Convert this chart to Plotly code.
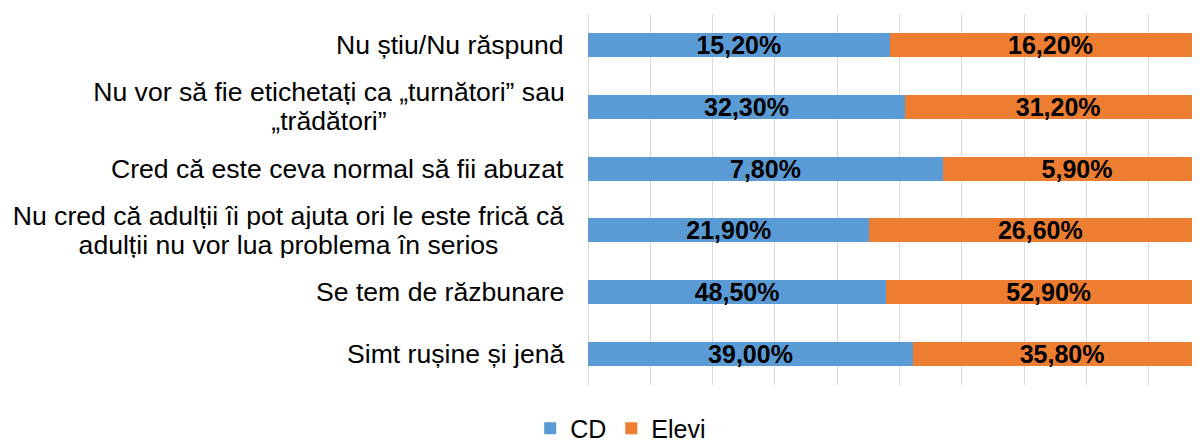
import plotly.graph_objects as go

categories = [
    "Nu știu/Nu răspund",
    "Nu vor să fie etichetați ca „turnători” sau<br>„trădători”",
    "Cred că este ceva normal să fii abuzat",
    "Nu cred că adulții îi pot ajuta ori le este frică că<br>adulții nu vor lua problema în serios",
    "Se tem de răzbunare",
    "Simt rușine și jenă",
]
cd_values = [15.20, 32.30, 7.80, 21.90, 48.50, 39.00]
elevi_values = [16.20, 31.20, 5.90, 26.60, 52.90, 35.80]

def fmt(v):
    return f"{v:.2f}%".replace(".", ",")

FONT = "Liberation Sans, Arial, sans-serif"
BLUE = "#5B9BD5"
ORANGE = "#ED7D31"
LABEL_SIZE = 26.6
LINE_GAP = 29

keys = [c.replace("<br>", " ") for c in categories]

fig = go.Figure()
for name, vals, col in (("CD", cd_values, BLUE), ("Elevi", elevi_values, ORANGE)):
    fig.add_trace(go.Bar(
        y=keys, x=vals, name=name, orientation="h",
        marker=dict(color=col, line=dict(width=0)),
        text=[fmt(v) for v in vals], textposition="inside",
        insidetextanchor="middle", textangle=0, constraintext="none",
        textfont=dict(family=FONT, size=25, color="black", weight="bold"),
    ))

# category labels: right-aligned block, multi-line labels centred within it
for k, c in zip(keys, categories):
    lines = c.split("<br>")
    if len(lines) == 1:
        fig.add_annotation(
            x=0, xref="paper", y=k, yref="y", text=c, showarrow=False,
            xanchor="right", yanchor="middle", xshift=-22,
            font=dict(family=FONT, size=LABEL_SIZE, color="black"),
        )
    else:
        box_w = 470 if len(lines[0]) < 46 else 551
        n = len(lines)
        for i, ln in enumerate(lines):
            fig.add_annotation(
                x=0, xref="paper", y=k, yref="y", text=ln, showarrow=False,
                xanchor="right", yanchor="middle", xshift=-22,
                width=box_w, height=26, align="center", valign="middle",
                yshift=((n - 1) / 2 - i) * LINE_GAP,
                font=dict(family=FONT, size=LABEL_SIZE, color="black"),
            )

fig.update_layout(
    barmode="stack", barnorm="percent", bargap=0.61,
    width=1192, height=438,
    margin=dict(l=580, r=0, t=6, b=61),
    paper_bgcolor="white", plot_bgcolor="white",
    font=dict(family=FONT, size=25, color="black"),
    xaxis=dict(range=[0, 98.2], dtick=10, showgrid=True, gridcolor="#D9D9D9",
               gridwidth=1.3, showticklabels=False, zeroline=True,
               zerolinecolor="#D9D9D9", zerolinewidth=1.3, showline=False),
    yaxis=dict(autorange="reversed", showticklabels=False, showgrid=False,
               zeroline=False, showline=False),
    legend=dict(orientation="h", xref="container", x=0.514, xanchor="center",
                yref="container", y=0.04, yanchor="middle",
                font=dict(family=FONT, size=25, color="black"),
                itemwidth=30, traceorder="normal"),
    showlegend=True,
)

fig.write_html("out.html")
